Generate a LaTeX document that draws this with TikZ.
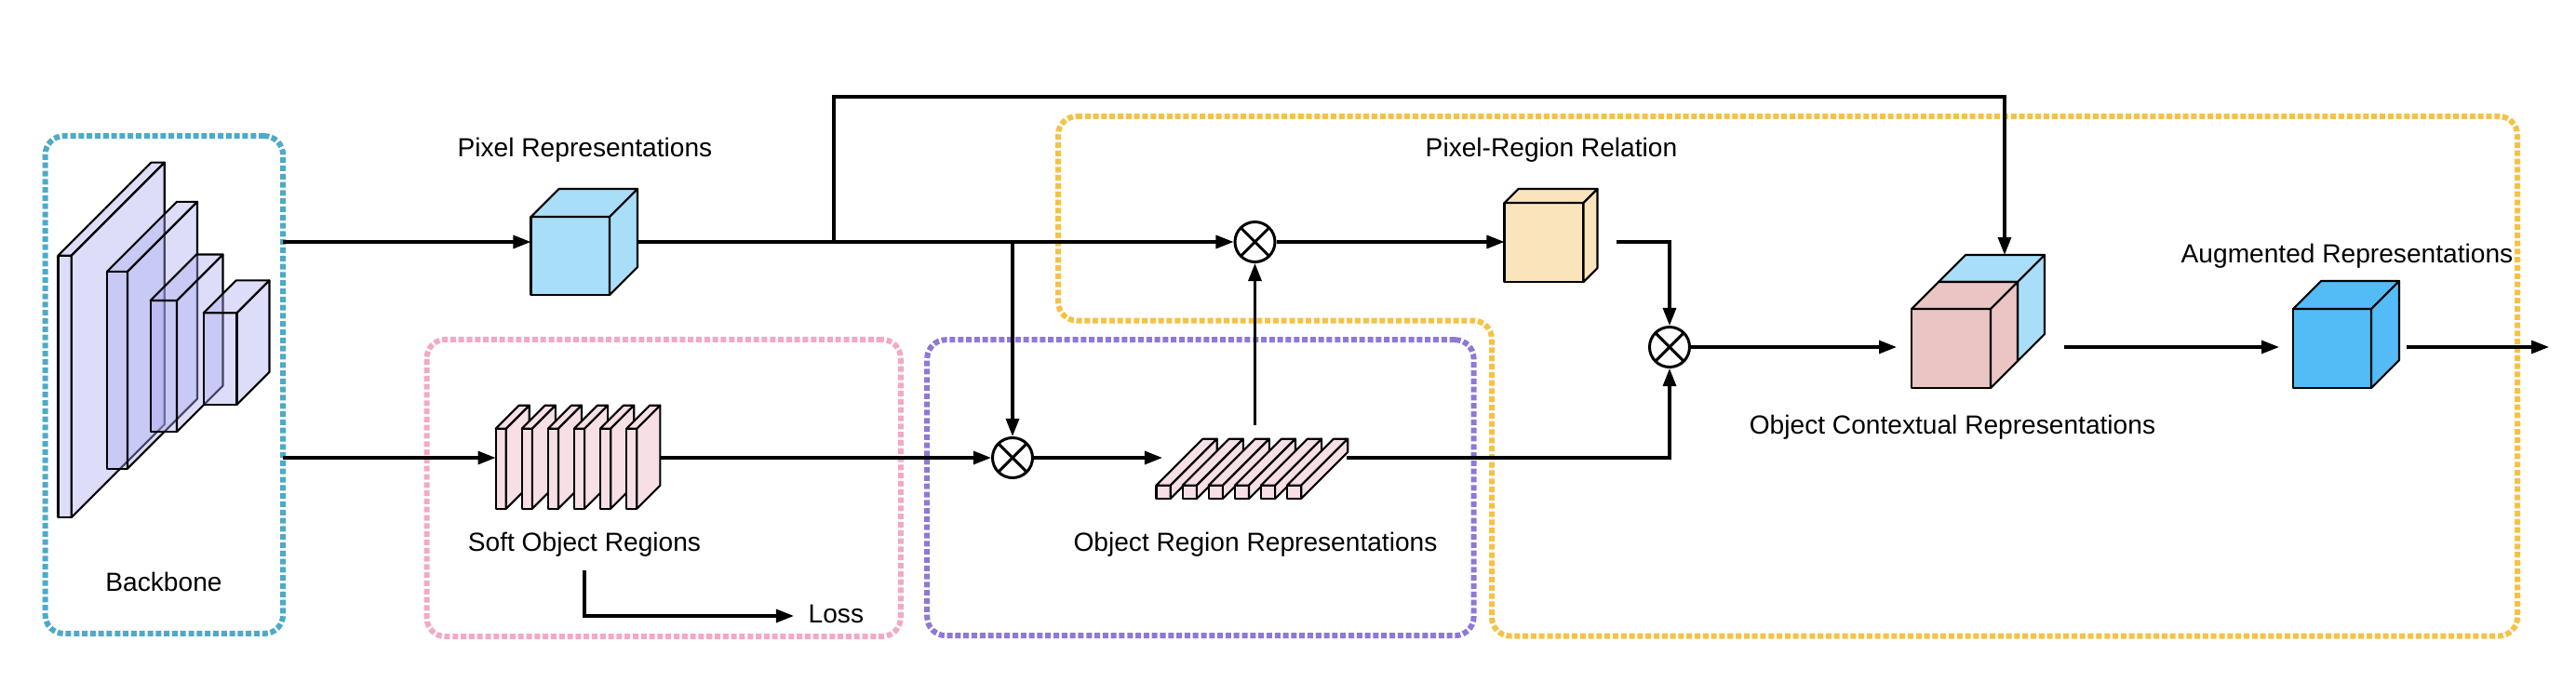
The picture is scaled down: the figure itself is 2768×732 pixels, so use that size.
\documentclass[tikz,border=0pt]{standalone}
\usepackage{fontspec}
\setmainfont{Liberation Sans}
\usetikzlibrary{arrows.meta}
\definecolor{cBlueFrame}{HTML}{4DAAC8}
\definecolor{cPinkFrame}{HTML}{F2A9C6}
\definecolor{cPurpleFrame}{HTML}{8F78D6}
\definecolor{cYellowFrame}{HTML}{F4C245}
\definecolor{cPix}{HTML}{A9DEF9}
\definecolor{cTan}{HTML}{FAE4BB}
\definecolor{cRose}{HTML}{EBC4C4}
\definecolor{cAug}{HTML}{53BCF6}
\definecolor{cSlab}{HTML}{F6DFE5}
\definecolor{cLav}{HTML}{AAAAF0}
\newcommand{\cubeshape}[7][]{%
  \filldraw[cubeedge,fill=#7,#1] (#2,#3) rectangle (#2+#4,#3+#5);
  \filldraw[cubeedge,fill=#7,#1] (#2,#3) -- (#2+#6,#3-#6) -- (#2+#4+#6,#3-#6) -- (#2+#4,#3) -- cycle;
  \filldraw[cubeedge,fill=#7,#1] (#2+#4,#3) -- (#2+#4+#6,#3-#6) -- (#2+#4+#6,#3+#5-#6) -- (#2+#4,#3+#5) -- cycle;
}
\tikzset{
  cubeedge/.style={draw=black,line width=0.6pt,line join=round},
  conn/.style={draw=black,line width=0.9pt},
  arr/.style={conn,-{Triangle[length=0.19cm,width=0.14cm]}},
  frame/.style={draw,line width=0.06cm,dash pattern=on 0.06cm off 0.028cm,rounded corners=0.2cm},
  framenode/.style={frame,rectangle,inner sep=0,outer sep=0},
  hit/.style={rectangle,inner sep=0,outer sep=0,draw=none},
  lbl/.style={inner sep=0,anchor=base,font=\fontsize{8pt}{9.6pt}\selectfont},
  mult/.style={circle,draw=black,line width=0.85pt,minimum size=0.43cm,inner sep=0,
    path picture={\draw[line width=0.85pt] (path picture bounding box.north west)--(path picture bounding box.south east)
      (path picture bounding box.north east)--(path picture bounding box.south west);}}
}
\begin{document}
\begin{tikzpicture}[x=0.01cm,y=-0.01cm]
\useasboundingbox (0,0) rectangle (2768,732);

% ---------- cubes ----------
% backbone layers
\cubeshape[fill opacity=0.4]{62.5}{274.6}{14.3}{281.4}{100}{cLav}
\cubeshape[fill opacity=0.4]{115}{291.8}{22}{211.8}{75}{cLav}
\cubeshape[fill opacity=0.4]{161.6}{323}{28.4}{141}{49.5}{cLav}
\cubeshape[fill opacity=0.4]{218.75}{336.4}{35.7}{98.5}{35}{cLav}

% pixel representations
\cubeshape{570.5}{233}{84.5}{84}{30}{cPix}
\node[hit,minimum width=1.145cm,minimum height=1.14cm] (pix) at (627.75,260) {};

% soft object regions
\foreach \k in {0,...,5} {\cubeshape{532.6+28.1*\k}{460.7}{11.2}{86}{25}{cSlab}}
\node[hit,minimum width=1.774cm,minimum height=1.107cm] (sor) at (621.3,492) {};

% object region representations
\foreach \k in {0,...,5} {\cubeshape{1242.5+28.1*\k}{521.7}{15.2}{14.3}{50}{cSlab}}
\node[hit,minimum width=2.055cm,minimum height=0.643cm] (orr) at (1345.25,503.85) {};

% pixel-region relation
\cubeshape{1616.5}{218}{85}{85}{15}{cTan}
\node[hit,minimum width=1.0cm,minimum height=1.0cm] (tan) at (1666.5,253) {};

% object contextual representations
\cubeshape{2083}{303}{85}{85}{29}{cPix}
\cubeshape{2054}{332}{85}{85}{29}{cRose}
\node[hit,minimum width=1.43cm,minimum height=1.43cm] (ocr) at (2125.5,345.5) {};

% augmented representations
\cubeshape{2464}{332}{84}{85}{30}{cAug}
\node[hit,minimum width=1.14cm,minimum height=1.15cm] (aug) at (2521,359.5) {};

% ---------- operators ----------
\node[mult] (mulT) at (1348.5,260) {};
\node[mult] (mulB) at (1088,492) {};
\node[mult] (mulR) at (1794,373) {};

% ---------- frames ----------
\node[framenode,draw=cBlueFrame,minimum width=2.553cm,minimum height=5.345cm] (bbx) at (176.35,413.55) {};
\node[framenode,draw=cPinkFrame,minimum width=5.089cm,minimum height=3.19cm] (pinkbox) at (713.15,524.5) {};
\node[framenode,draw=cPurpleFrame,minimum width=5.87cm,minimum height=3.177cm] (purplebox) at (1289.9,524.15) {};
\draw[frame,draw=cYellowFrame] (1137,125) -- (2705,125) -- (2705,683.5) -- (1603,683.5) -- (1603,344.5) -- (1137,344.5) -- cycle;

% ---------- coordinates ----------
\coordinate (J1) at (896,260);
\coordinate (J2) at (1088,260);
\coordinate (up) at (1500,104);
\coordinate (ocrIn) at (2154,274);
\coordinate (orrUp) at (1348.5,457);
\coordinate (orrIn) at (1249,492);
\coordinate (orrOut) at (1447,492);
\coordinate (tanOut) at (1737,260);
\coordinate (ocrL) at (2038,373);
\coordinate (ocrR) at (2218,373);
\coordinate (augL) at (2449,373);
\coordinate (augR) at (2586,373);
\coordinate (outEnd) at (2739,373);
\coordinate (lossTop) at (628,613);
\coordinate (lossEnd) at (853,662);

% ---------- connectors ----------
\draw[arr] (bbx.east |- pix.west) -- (pix.west);
\draw[arr] (bbx.east |- sor.west) -- (sor.west);
\draw[arr] (pix.east) -- (mulT.west);
\draw[arr] (J1) |- (up) -| (ocrIn);
\draw[arr] (J2) -- (mulB.north);
\draw[arr] (sor.east) -- (mulB.west);
\draw[arr] (mulB.east) -- (orrIn);
\draw[arr] (orrUp) -- (mulT.south);
\draw[arr] (mulT.east) -- (tan.west |- mulT.east);
\draw[arr] (tanOut) -| (mulR.north);
\draw[arr] (orrOut) -| (mulR.south);
\draw[arr] (mulR.east) -- (ocrL);
\draw[arr] (ocrR) -- (augL);
\draw[arr] (augR) -- (outEnd);
\draw[arr] (lossTop) |- (lossEnd);

% ---------- labels ----------
\node[lbl] (tBackbone) at (176,635) {Backbone};
\node[lbl] (tPix) at (628.5,168.5) {Pixel Representations};
\node[lbl] (tSor) at (628,592) {Soft Object Regions};
\node[lbl,anchor=base west] (tLoss) at (868,669) {Loss};
\node[lbl] (tOrr) at (1349,592) {Object Region Representations};
\node[lbl] (tPrr) at (1667,168) {Pixel-Region Relation};
\node[lbl] (tOcr) at (2098,466) {Object Contextual Representations};
\node[lbl] (tAug) at (2522,282) {Augmented Representations};
\end{tikzpicture}
\end{document}
